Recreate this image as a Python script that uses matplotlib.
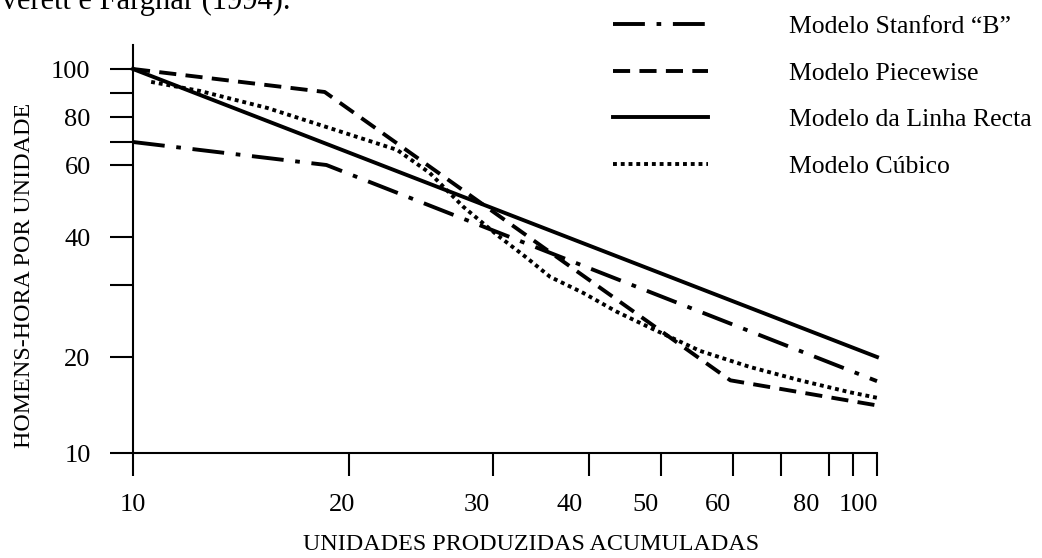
import numpy as np
import matplotlib.pyplot as plt
from matplotlib.transforms import ScaledTranslation

# ==== データ ====
# Modelo da Linha Recta
recta_x = [10, 100]
recta_y = [100, 20]

# Modelo Stanford "B"
stanford_x = [10, 18.6, 100]
stanford_y = [70, 60, 16.8]

# Modelo Piecewise
piecewise_x = [10, 18.5, 59.6, 100]
piecewise_y = [100, 90.4, 16.9, 14.1]

# Modelo Cúbico
cubico_x = [10.6, 12.4, 15.4, 18.8, 22.9, 25.1, 27.6, 30.4, 33.2, 35.6,
            39.3, 43.6, 48.3, 55.2, 63.4, 73.8, 88.7, 100]
cubico_y = [94.5, 90.8, 83.6, 75.4, 66.4, 57.4, 47.4, 40.4, 35.3, 31.5,
            28.7, 25.8, 23.6, 20.7, 18.6, 16.9, 15.5, 14.9]

x_ticks = [10, 20, 30, 40, 50, 60, 70, 80, 90, 100]
x_tick_labels = ["10", "20", "30", "40", "50", "60", "", "80", "", "100"]
y_ticks = [10, 20, 30, 40, 60, 70, 80, 90, 100]
y_tick_labels = ["10", "20", "", "40", "60", "", "80", "", "100"]

labels = ["Modelo Stanford \u201cB\u201d", "Modelo Piecewise",
          "Modelo da Linha Recta", "Modelo C\u00fabico"]

# ==== 手描きの対数目盛 (目盛の位置, px) ====
x_axis_pos = [0, 216, 360, 456, 528, 600, 648, 696, 720, 744]
y_axis_vals = [10, 20, 30, 40, 60, 70, 80, 90, 100, 111]
y_axis_pos = [0, 96, 168, 216, 288, 311, 336, 360, 384, 408]


def make_scale(vals, pos):
    lv = np.log10(np.asarray(vals, float))
    pos = np.asarray(pos, float)

    def fwd(v):
        v = np.clip(np.asarray(v, float), 1e-6, None)
        return np.interp(np.log10(v), lv, pos)

    def inv(p):
        return 10 ** np.interp(p, pos, lv)

    return fwd, inv


plt.rcParams['font.family'] = ['Liberation Serif', 'DejaVu Serif']

W, H = 1042, 558
fig = plt.figure(figsize=(W / 100, H / 100), dpi=100)
ax = fig.add_axes([133 / W, 1 - 453 / H, 744 / W, 408 / H])

ax.set_xscale('function', functions=make_scale(x_ticks, x_axis_pos))
ax.set_yscale('function', functions=make_scale(y_axis_vals, y_axis_pos))

lw = 2.8
l_stan, = ax.plot(stanford_x, stanford_y, color='black', lw=lw,
                  dashes=(8.2, 3, 1.2, 3), clip_on=False)
l_piece, = ax.plot(piecewise_x, piecewise_y, color='black', lw=lw,
                   dashes=(4.4, 2.4), clip_on=False)
l_recta, = ax.plot(recta_x, recta_y, color='black', lw=lw, clip_on=False)
l_cub, = ax.plot(cubico_x, cubico_y, color='black', lw=lw,
                 dashes=(1, 1), clip_on=False)

ax.set_xlim(10, 100)
ax.set_ylim(10, 111)

# ==== 軸 ====
for s in ['top', 'right']:
    ax.spines[s].set_visible(False)
for s in ['left', 'bottom']:
    ax.spines[s].set_linewidth(1.5)

ax.set_xticks(x_ticks)
ax.set_xticklabels(x_tick_labels)
ax.set_yticks(y_ticks)
ax.set_yticklabels(y_tick_labels)
ax.minorticks_off()
ax.tick_params(axis='both', direction='out', length=16.5, width=1.5,
               labelsize=19, color='black')
ax.tick_params(axis='y', pad=14)
ax.tick_params(axis='x', pad=13)

# x軸ラベルは目盛から少し左にずれている
x_label_shift = [0, -7, -16, -19, -15, -15, 0, -23, 0, -19]
for lab, dx in zip(ax.get_xticklabels(), x_label_shift):
    lab.set_transform(lab.get_transform() +
                      ScaledTranslation(dx / 100, 0, fig.dpi_scale_trans))

ax.set_xlabel("UNIDADES PRODUZIDAS ACUMULADAS", fontsize=17.3)
ax.xaxis.set_label_coords((531 - 133) / 744, -(545 - 453) / 408)
ax.xaxis.label.set_verticalalignment('center')

ax.set_ylabel("HOMENS-HORA POR UNIDADE", fontsize=17.3)
ax.yaxis.set_label_coords((24 - 133) / 744, (453 - 275) / 408)
ax.yaxis.label.set_verticalalignment('center')

# ==== 凡例 ====
ax.legend([l_stan, l_piece, l_recta, l_cub], labels,
          loc='upper left', bbox_to_anchor=(613 / W, 1 - 15 / H),
          bbox_transform=fig.transFigure, frameon=False, fontsize=18.5,
          handlelength=3.7, handletextpad=3.15, labelspacing=0.92,
          borderpad=0, borderaxespad=0)

# 上端で切れている本文
fig.text(-17 / W, 1 - 9 / H, "Everett e Farghar (1994).", fontsize=22,
         ha='left', va='baseline')

fig.savefig("out.png", dpi=100)
